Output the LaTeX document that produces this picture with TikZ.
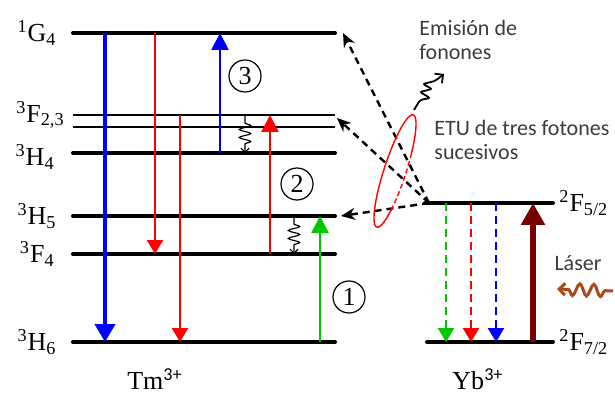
\documentclass[tikz,border=0pt]{standalone}
\usepackage{fontspec}
\setmainfont{Liberation Serif}
\newfontfamily\notefont{Carlito}
\usepackage{xcolor}
\usetikzlibrary{arrows.meta,positioning,decorations.pathmorphing}
\definecolor{lgreen}{RGB}{0,200,0}
\definecolor{darkred}{RGB}{120,0,0}
\definecolor{laserbrown}{RGB}{170,75,25}
\definecolor{notegray}{RGB}{60,60,60}

\begin{document}
\begin{tikzpicture}[x=0.5pt, y=-0.5pt,
        font=\fontsize{13}{15}\selectfont,
        level/.style={line width=2pt, line cap=round},
        thinlevel/.style={line width=1.2pt},
        term/.style={inner sep=0pt},
        downtip/.style={-{Triangle[length=7pt, width=8pt]}},
        uptip/.style={-{Triangle[length=8.5pt, width=8.5pt]}},
        bigtip/.style={-{Triangle[length=9pt, width=10pt]}},
        etu/.style={line width=1.2pt, dash pattern=on 3.5pt off 2.5pt, -{Stealth[length=7pt, width=6pt]}},
        relax/.style={line width=0.6pt, decorate, decoration={snake, amplitude=2.8pt, segment length=4pt, pre length=4pt, post length=3pt}, -{Straight Barb[length=2pt, width=4pt]}},
        circnum/.style={circle, draw, line width=0.6pt, minimum size=16pt, inner sep=0pt},
        note/.style={font=\notefont\fontsize{11}{11.8}\selectfont, text=notegray, align=left, inner sep=0pt}
    ]
    \useasboundingbox (0,0) rectangle (615,395);

    \foreach \lvl/\y in {g4/33, h4/153, h5/216, f4/254, h6/342}
        \draw[level] (73,\y) coordinate (\lvl-l) -- (335,\y) coordinate (\lvl-r);
    \draw[thinlevel] (73,115) coordinate (f23-l) -- (335,115) coordinate (f23-r);
    \draw[thinlevel] (73,127) coordinate (f23b-l) -- (335,127) coordinate (f23b-r);
    \draw[level] (425,203) coordinate (f52-l) -- (553,203) coordinate (f52-r);
    \draw[level] (427,342) coordinate (f72-l) -- (553,342) coordinate (f72-r);

    \node[term, left=8pt of g4-l] (g4) {\textsuperscript{1}G\textsubscript{4}};
    \node[term, left=4pt of f23-l] (f23) {\textsuperscript{3}F\textsubscript{2,3}};
    \node[term, left=9pt of h4-l, yshift=-2pt] (h4) {\textsuperscript{3}H\textsubscript{4}};
    \node[term, left=8pt of h5-l] (h5) {\textsuperscript{3}H\textsubscript{5}};
    \node[term, left=9pt of f4-l] (f4) {\textsuperscript{3}F\textsubscript{4}};
    \node[term, left=8pt of h6-l] (h6) {\textsuperscript{3}H\textsubscript{6}};
    \node[term, right=3pt of f52-r] (f52) {\textsuperscript{2}F\textsubscript{5/2}};
    \node[term, right=3pt of f72-r] (f72) {\textsuperscript{2}F\textsubscript{7/2}};
    \node (tm) at (155,379) {Tm\textsuperscript{\notefont 3+}};
    \node (yb) at (478,379) {Yb\textsuperscript{\notefont 3+}};

    \draw[blue, line width=2pt, bigtip] (105,0 |- g4-l) -- (105,0 |- h6-l);
    \draw[red, line width=1pt, downtip] (155,0 |- g4-l) -- (155,0 |- f4-l);
    \draw[red, line width=1pt, downtip] (180,0 |- f23-l) -- (180,0 |- h6-l);
    \draw[blue, line width=1.3pt, uptip] (220,0 |- h4-l) -- (220,0 |- g4-l);
    \draw[red, line width=1.3pt, uptip] (270,0 |- f4-l) -- (270,0 |- f23-l);
    \draw[lgreen, line width=1.3pt, uptip] (320,0 |- h6-l) -- (320,0 |- h5-l);
    \draw[relax] (245,0 |- f23-l) -- (245,0 |- h4-l);
    \draw[relax] (294,0 |- h5-l) -- (294,0 |- f4-l);
    \node[circnum] (three) at (245,76) {3};
    \node[circnum] (two) at (297,184) {2};
    \node[circnum] (one) at (349,297) {1};

    \foreach \x/\c in {446/lgreen, 471/red, 496/blue}
        \draw[\c, line width=1.2pt, dash pattern=on 4pt off 2.5pt, downtip] (\x,0 |- f52-l) -- (\x,0 |- f72-l);
    \draw[darkred, line width=3pt, -{Triangle[length=11pt, width=11.5pt]}] (533,0 |- f72-l) -- (533,0 |- f52-l);

    \coordinate (src) at ([xshift=2pt]f52-l);
    \draw[etu] (src) -- ([xshift=4pt]g4-r);
    \draw[etu] (src) -- ([xshift=1pt, yshift=-1.5pt]f23-r);
    \draw[etu] (src) -- ([xshift=3pt]h5-r);

    \begin{scope}[shift={(395,171)}, rotate=72]
        \draw[red, line width=0.7pt] plot[smooth, domain=125:428, samples=60] ({59*cos(\x)}, {11*sin(\x)});
        \draw[red, line width=0.7pt, dash pattern=on 2.5pt off 1.5pt] plot[smooth, domain=68:125, samples=15] ({59*cos(\x)}, {11*sin(\x)});
    \end{scope}

    \coordinate (ph-start) at (414,110);
    \coordinate (ph-end) at (444,74);
    \draw[line width=0.9pt, rounded corners=1pt, -{Straight Barb[length=3pt, width=6pt]}] (ph-start) -- (420,100) -- (430,98) -- (420,92) -- (432,89) -- (423,84) -- (435,81) -- (ph-end);
    \node[note, anchor=north west] (phonon) at (419,20) {Emisión de\\fonones};
    \node[note, anchor=north west] (etu-txt) at (434,120) {ETU de tres fotones\\sucesivos};

    \node[note] (laser) at (578,263) {Láser};
    \coordinate (laser-in) at (613,291);
    \coordinate (laser-tip) at (557,289);
    \draw[laserbrown, line width=1.5pt, decorate, decoration={snake, amplitude=3pt, segment length=7pt, pre length=4pt, post length=3pt}, -{Straight Barb[length=3pt, width=6pt]}] (laser-in) -- (laser-tip);
\end{tikzpicture}
\end{document}
